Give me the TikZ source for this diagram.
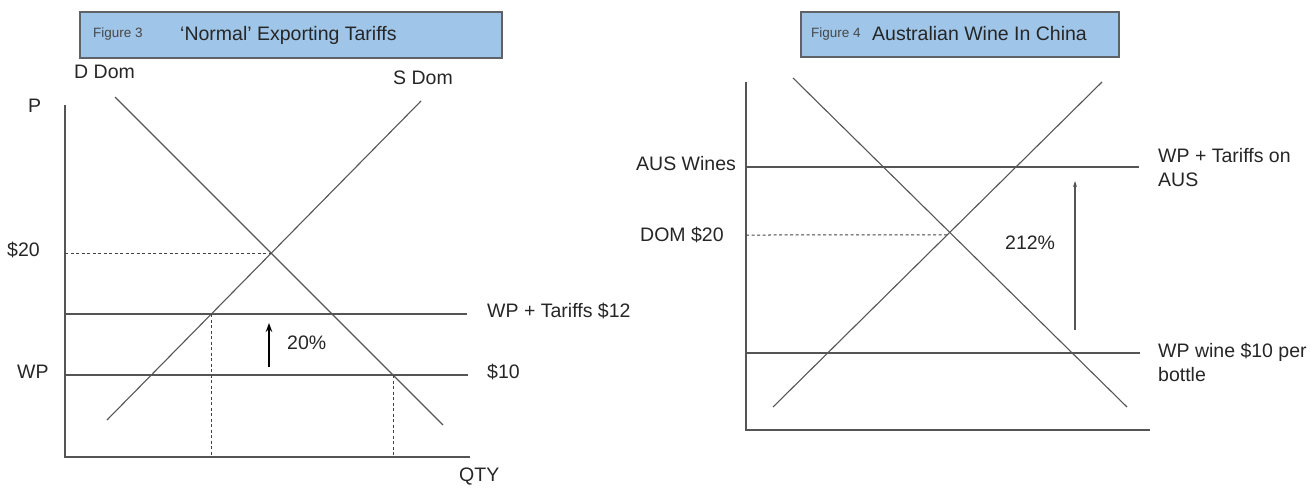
\documentclass[tikz,border=0pt]{standalone}
\usepackage{fontspec}
\setmainfont{Liberation Sans}
\usetikzlibrary{arrows.meta}
\definecolor{boxblue}{HTML}{9FC5E8}
\definecolor{boxedge}{HTML}{5F6368}
\definecolor{linegray}{HTML}{555555}
\definecolor{guidegray}{HTML}{444444}
\definecolor{txt}{HTML}{262626}
\begin{document}
\begin{tikzpicture}[x=1pt,y=-1pt,
  lbl/.style={font=\fontsize{19.5}{24}\selectfont, text=txt, inner sep=0pt, anchor=west, text height=0.716em, text depth=0pt},
  lbltwo/.style={font=\fontsize{19.5}{24}\selectfont, text=txt, inner sep=0pt, anchor=north west, align=left},
  smalltxt/.style={font=\fontsize{13.5}{15}\selectfont, text=txt!85, inner sep=0pt, anchor=base west},
  titletxt/.style={font=\fontsize{19.5}{24}\selectfont, text=txt, inner sep=0pt, anchor=base west},
  titlebox/.style={draw=boxedge, line width=1.5pt, fill=boxblue, inner sep=0pt},
  curve/.style={draw=linegray, line width=1.1pt},
  axis/.style={draw=linegray, line width=1.4pt},
  guide/.style={draw=guidegray, line width=1pt, dash pattern=on 3pt off 2.5pt},
  bigarrow/.style={draw=black, line width=1.6pt, -{Stealth[length=9pt,width=6.5pt]}},
  thinarrow/.style={draw=linegray, line width=1.2pt, -{Stealth[length=6pt,width=4pt]}},
]
\useasboundingbox (0,0) rectangle (1313,489);

% ---------------- Figure 3 ----------------
\node[titlebox, minimum width=422pt, minimum height=46pt] (box3) at (291,35) {};
\node[smalltxt] (fig3) at (93,38) {Figure 3};
\node[titletxt] (title3) at (180,41) {‘Normal’ Exporting Tariffs};

\coordinate (o3) at (65,457);
\coordinate (ytop3) at (65,105);
\coordinate (xend3) at (470,457);
\draw[axis] (ytop3) -- (o3) -- (xend3);

\coordinate (d3a) at (115,97);
\coordinate (d3b) at (443,425);
\coordinate (s3a) at (421,101);
\coordinate (s3b) at (107,420);
\draw[curve] (d3a) -- (d3b);
\draw[curve] (s3a) -- (s3b);

\coordinate (wpt3a) at (65,314);
\coordinate (wpt3b) at (467,314);
\coordinate (wp3a) at (65,375);
\coordinate (wp3b) at (468,375);
\draw[curve] (wpt3a) -- (wpt3b);
\draw[curve] (wp3a) -- (wp3b);

\coordinate (eq3) at (intersection of d3a--d3b and s3a--s3b);
\coordinate (p20) at (65,253);
\draw[guide] (p20) -- (eq3 |- p20);
\coordinate (qs3) at (intersection of s3a--s3b and wpt3a--wpt3b);
\coordinate (qd3) at (intersection of d3a--d3b and wp3a--wp3b);
\draw[guide] (qs3) -- (qs3 |- o3);
\draw[guide] (qd3) -- (qd3 |- o3);

\coordinate (ar3a) at (269,367);
\coordinate (ar3b) at (269,323);
\draw[bigarrow] (ar3a) -- (ar3b);

\node[lbl] (ddom) at (74,75) {D Dom};
\node[lbl] (sdom) at (393,81) {S Dom};
\node[lbl] (plab) at (28,109) {P};
\node[lbl] (p20lab) at (7,253) {\$20};
\node[lbl] (wplab) at (17,375) {WP};
\node[lbl] (wptlab) at (487,314) {WP + Tariffs \$12};
\node[lbl] (p10lab) at (487,375) {\$10};
\node[lbl] (pct20) at (287,346) {20\%};
\node[lbl] (qty) at (459,478) {QTY};

% ---------------- Figure 4 ----------------
\node[titlebox, minimum width=318pt, minimum height=45pt] (box4) at (960,34.5) {};
\node[smalltxt] (fig4) at (811,38) {Figure 4};
\node[titletxt] (title4) at (872,41) {Australian Wine In China};

\coordinate (o4) at (746,430);
\coordinate (ytop4) at (746,82);
\coordinate (xend4) at (1150,430);
\draw[axis] (ytop4) -- (o4) -- (xend4);

\coordinate (d4a) at (793,78);
\coordinate (d4b) at (1127,407);
\coordinate (s4a) at (1102,82);
\coordinate (s4b) at (773,407);
\draw[curve] (d4a) -- (d4b);
\draw[curve] (s4a) -- (s4b);

\coordinate (aus4a) at (746,167);
\coordinate (aus4b) at (1139,167);
\coordinate (wp4a) at (746,353);
\coordinate (wp4b) at (1140,353);
\draw[curve] (aus4a) -- (aus4b);
\draw[curve] (wp4a) -- (wp4b);

\coordinate (dom4a) at (746,235);
\coordinate (dom4r) at (1150,235);
\coordinate (dom4b) at (intersection of dom4a--dom4r and s4a--s4b);
\draw[guide] (dom4a) -- (dom4b);

\coordinate (ar4a) at (1075,330);
\coordinate (ar4b) at (1075,181);
\draw[thinarrow] (ar4a) -- (ar4b);

\node[lbl] (auslab) at (636,167) {AUS Wines};
\node[lbl] (domlab) at (640,238) {DOM \$20};
\node[lbl] (pct212) at (1005,246) {212\%};
\node[lbltwo] (wptaus) at (1158,148) {WP + Tariffs on\\AUS};
\node[lbltwo] (wpwine) at (1158,343) {WP wine \$10 per\\bottle};
\end{tikzpicture}
\end{document}
